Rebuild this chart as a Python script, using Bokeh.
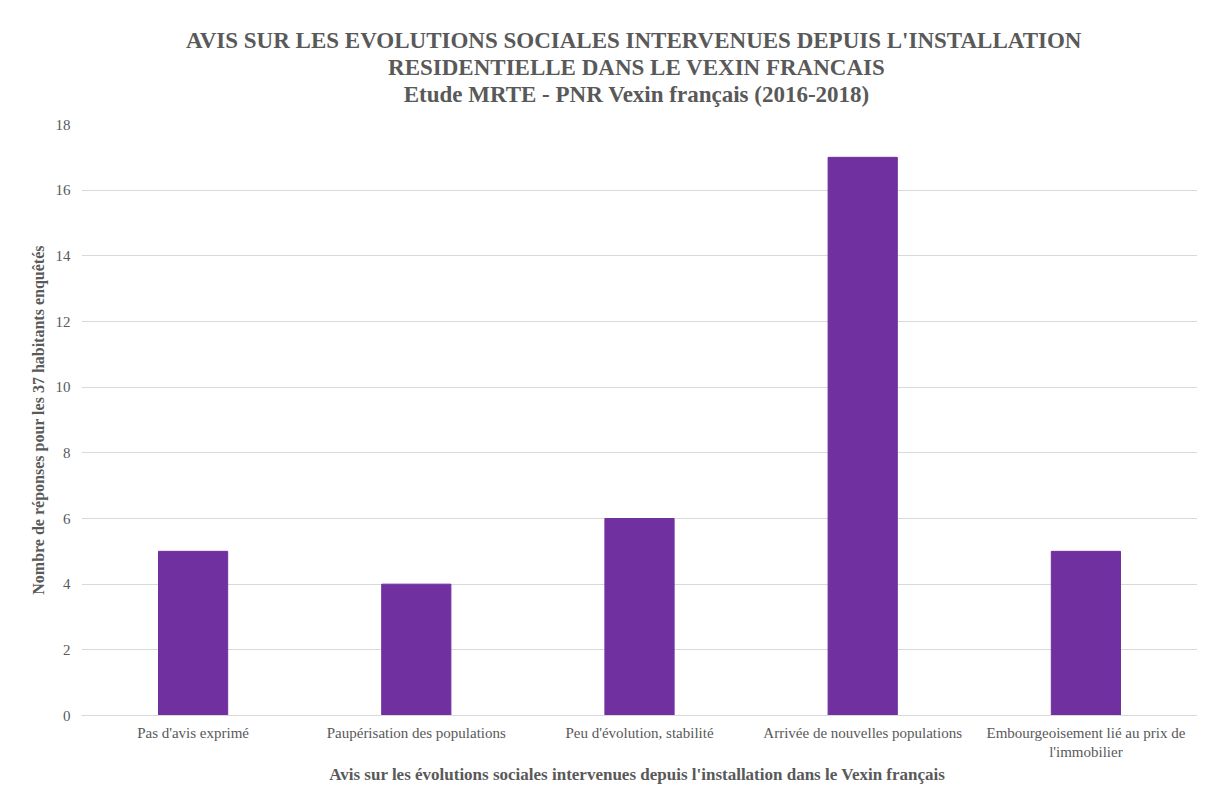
from bokeh.plotting import figure
from bokeh.models import Title, Range1d, FixedTicker
from bokeh.embed import file_html
from bokeh.resources import INLINE

categories = ["Pas d'avis exprimé", "Paupérisation des populations", "Peu d'évolution, stabilité",
              "Arrivée de nouvelles populations", "Embourgeoisement lié au prix de\nl'immobilier"]
values = [5, 4, 6, 17, 5]
y_ticks = [0, 2, 4, 6, 8, 10, 12, 14, 16, 18]

title_lines = ["AVIS SUR LES EVOLUTIONS  SOCIALES INTERVENUES  DEPUIS L'INSTALLATION",
               "RESIDENTIELLE  DANS LE VEXIN FRANCAIS",
               "Etude MRTE - PNR Vexin  français (2016-2018)"]

FONT = "Liberation Serif"
GREY = "#595959"

p = figure(x_range=categories, frame_width=1116, frame_height=591, output_backend="svg",
           toolbar_location=None,
           min_border_left=81, min_border_right=0, min_border_top=124, min_border_bottom=70)
p.y_range = Range1d(0, 18)

p.vbar(x=categories, top=values, width=0.31, color="#7030A0")

# spacer between the title block and the plot area
p.add_layout(Title(text=" ", text_font=FONT, text_font_size="15px", standoff=0), "above")
for line in reversed(title_lines):
    p.add_layout(Title(text=line, align="center", text_font=FONT, text_font_size="23px",
                       text_font_style="bold", text_color=GREY, standoff=0), "above")

p.outline_line_color = None
p.xgrid.grid_line_color = None
p.ygrid.grid_line_color = "#d9d9d9"
p.yaxis.ticker = FixedTicker(ticks=y_ticks)
p.yaxis.axis_line_color = None
p.yaxis.major_tick_line_color = None
p.yaxis.minor_tick_line_color = None
p.xaxis.axis_line_color = "#d9d9d9"
p.xaxis.major_tick_line_color = None
p.xaxis.minor_tick_line_color = None

for ax in (p.xaxis, p.yaxis):
    ax.major_label_text_font = FONT
    ax.major_label_text_font_size = "15px"
    ax.major_label_text_color = GREY
    ax.axis_label_text_font = FONT
    ax.axis_label_text_font_style = "bold"
    ax.axis_label_text_color = GREY

p.xaxis.axis_label_text_font_size = "17px"
p.yaxis.axis_label_text_font_size = "16px"
p.yaxis.axis_label = "Nombre de réponses pour les 37 habitants enquêtés"
p.xaxis.axis_label = "Avis sur les évolutions sociales intervenues depuis l'installation  dans le Vexin français"
p.yaxis.major_label_standoff = 5
p.xaxis.major_label_standoff = 3
p.yaxis.axis_label_standoff = 6
p.xaxis.axis_label_standoff = 2

open("out.html", "w").write(file_html(p, INLINE))
